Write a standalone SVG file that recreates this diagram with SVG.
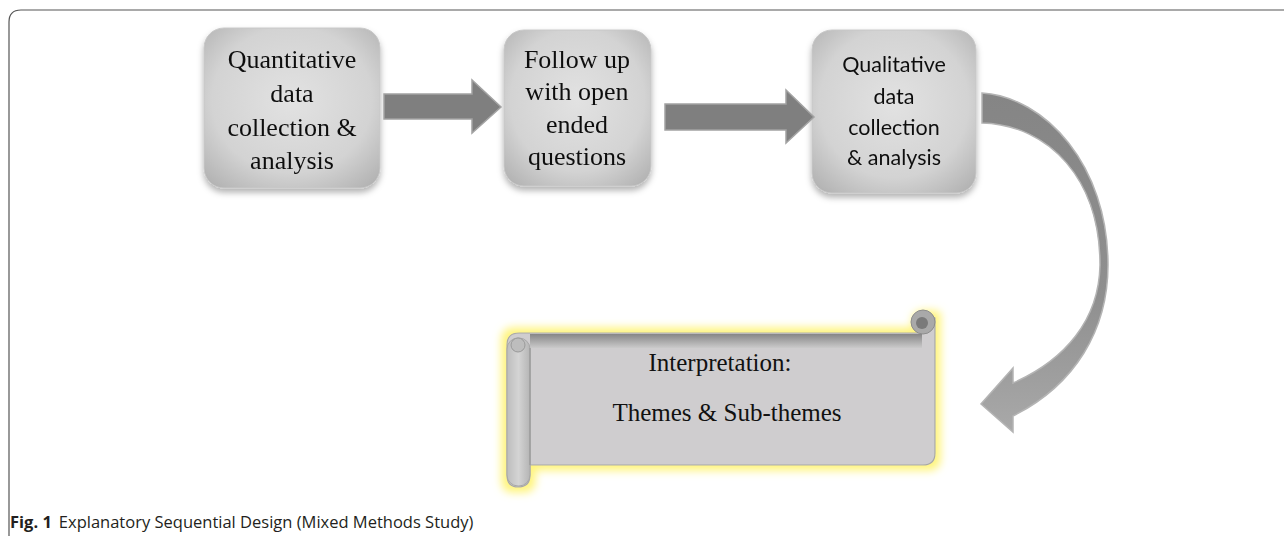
<svg xmlns="http://www.w3.org/2000/svg" width="1284" height="536" viewBox="0 0 1284 536">
<style>
.serif{font-family:"Liberation Serif","Times New Roman",serif;fill:#111;text-anchor:middle}
.sans{font-family:Lato,"Liberation Sans",sans-serif;fill:#111;text-anchor:middle}
.cap{font-family:"Open Sans","Liberation Sans",sans-serif;fill:#231f20}
.arrow{fill:#7f7f7f;stroke:#a3a3a3;stroke-width:1.5}
</style>
<defs>
<radialGradient id="boxg" cx="0.5" cy="0.45" r="0.7">
<stop offset="0" stop-color="#e2e2e2"/>
<stop offset="0.65" stop-color="#d3d3d3"/>
<stop offset="1" stop-color="#b2b2b2"/>
</radialGradient>
<linearGradient id="curveg" x1="0" y1="0" x2="0" y2="1">
<stop offset="0" stop-color="#858585"/>
<stop offset="0.6" stop-color="#8f8f8f"/>
<stop offset="1" stop-color="#a9a9a9"/>
</linearGradient>
<linearGradient id="colg" x1="0" y1="0" x2="1" y2="0">
<stop offset="0" stop-color="#bdbdbd"/>
<stop offset="0.5" stop-color="#d4d4d4"/>
<stop offset="1" stop-color="#b5b5b5"/>
</linearGradient>
<linearGradient id="bandg" x1="0" y1="0" x2="0" y2="1">
<stop offset="0" stop-color="#6f6f6f"/>
<stop offset="1" stop-color="#c9c9c9"/>
</linearGradient>
<filter id="shadow" x="-20%" y="-20%" width="140%" height="150%">
<feDropShadow dx="0" dy="4" stdDeviation="3" flood-color="#000" flood-opacity="0.3"/>
</filter>
<filter id="glow" x="-10%" y="-20%" width="120%" height="140%">
<feMorphology in="SourceAlpha" operator="dilate" radius="5" result="d"/>
<feGaussianBlur in="d" stdDeviation="4" result="b"/>
<feFlood flood-color="#fff47a"/>
<feComposite in2="b" operator="in" result="g"/>
<feMerge><feMergeNode in="g"/><feMergeNode in="SourceGraphic"/></feMerge>
</filter>
</defs>

<path d="M9,536 L9,22 Q9,10 21,10 L1284,10" fill="none" stroke="#555" stroke-width="1.2"/>

<g id="node-quant" filter="url(#shadow)">
<rect x="204" y="28" width="176" height="160" rx="20" fill="url(#boxg)" stroke="#c8c8c8"/>
<text class="serif" font-size="26"><tspan x="292" y="68">Quantitative</tspan><tspan x="292" y="102">data</tspan><tspan x="292" y="136">collection &amp;</tspan><tspan x="292" y="169">analysis</tspan></text>
</g>

<g id="node-follow" filter="url(#shadow)">
<rect x="504" y="30" width="147" height="156" rx="20" fill="url(#boxg)" stroke="#c8c8c8"/>
<text class="serif" font-size="26"><tspan x="577" y="68">Follow up</tspan><tspan x="577" y="100">with open</tspan><tspan x="577" y="133">ended</tspan><tspan x="577" y="165">questions</tspan></text>
</g>

<g id="node-qual" filter="url(#shadow)">
<rect x="812" y="30" width="164" height="163" rx="20" fill="url(#boxg)" stroke="#c8c8c8"/>
<text class="sans" font-size="21.5"><tspan x="894" y="72">Qualitative</tspan><tspan x="894" y="104">data</tspan><tspan x="894" y="135">collection</tspan><tspan x="894" y="165">&amp; analysis</tspan></text>
</g>

<g id="node-interp">
<g filter="url(#glow)">
<path d="M507,345 Q507,333 519,333 L918,333 L918,322 A12,12 0 0 1 935,318 L935,453 Q935,465 923,465 L530,465 L530,475 Q530,487 518,487 Q507,487 507,475 Z" fill="#cfcdcf" stroke="#a8a8a8" stroke-width="1.2"/>
</g>
<rect x="530" y="334" width="392" height="14" fill="url(#bandg)" opacity="0.75"/>
<rect x="507" y="338" width="23" height="148" rx="11" fill="url(#colg)" stroke="#a8a8a8" stroke-width="1"/>
<circle cx="518" cy="345" r="7" fill="#bdbdbd" stroke="#999"/>
<line x1="530" y1="348" x2="530" y2="465" stroke="#9c9c9c" stroke-width="1.5"/>
<circle cx="923" cy="322" r="12" fill="#a9a9a9" stroke="#8d8d8d"/>
<circle cx="922" cy="323" r="6" fill="#7a7a7a"/>
<text class="serif" font-size="25"><tspan x="720" y="371">Interpretation:</tspan><tspan x="727" y="421">Themes &amp; Sub-themes</tspan></text>
</g>

<g id="connectors">
<path class="arrow" d="M384,94 L472,94 L472,80 L501,107 L472,133 L472,119 L384,119 Z"/>
<path class="arrow" d="M665,104 L786,104 L786,90 L814,117 L786,143 L786,130 L665,130 Z"/>
<path d="M982,93 C1045,97 1108,165 1108,265 C1108,330 1075,385 1013,416 L1013,432 L981,404 L1013,368 L1013,383 C1065,360 1099,320 1100,265 C1100,180 1050,125 982,123 Z" fill="url(#curveg)" stroke="#b4b4b4" stroke-width="1.5"/>
</g>

<text class="cap" x="10" y="528" font-size="16.5"><tspan font-weight="bold">Fig. 1</tspan><tspan dx="7">Explanatory Sequential Design (Mixed Methods Study)</tspan></text>
</svg>
